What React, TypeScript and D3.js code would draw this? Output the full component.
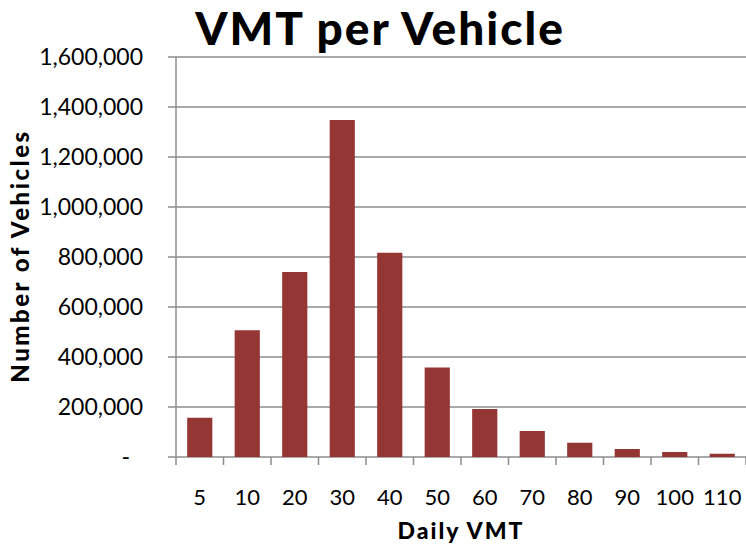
import React from "react";
import * as d3 from "d3";

const categories = ["5", "10", "20", "30", "40", "50", "60", "70", "80", "90", "100", "110"];
const vehicles = [157000, 507000, 740000, 1348000, 817000, 358000, 192000, 104000, 57000, 32000, 20000, 13000];
const yTicks = [0, 200000, 400000, 600000, 800000, 1000000, 1200000, 1400000, 1600000];

const W = 746, H = 548;
const left = 176, right = 746, top = 57, bottom = 457;
const font = "Lato, 'Open Sans', sans-serif";
const barColor = "#943634";

export default function App() {
  const x = d3.scaleBand().domain(categories).range([left, right]).paddingInner(0.47).paddingOuter(0.235);
  const xb = d3.scaleBand().domain(categories).range([left, right]);
  const y = d3.scaleLinear().domain([0, 1600000]).range([bottom, top]);
  const fmt = (v: number) => (v === 0 ? "-" : d3.format(",")(v));
  return (
    <svg width={W} height={H} style={{ position: "absolute", left: 0, top: 0 }}>
      <rect width={W} height={H} fill="#fff" />
      {yTicks.map((t) => (
        <g key={t}>
          <line x1={left - 8} x2={right} y1={y(t)} y2={y(t)} stroke="#8c8c8c" strokeWidth={1.5} />
          <text x={t === 0 ? 130 : 143} y={y(t)} dy="0.36em" textAnchor="end" fontFamily={font} fontSize={23} fill="#000">
            {fmt(t)}
          </text>
        </g>
      ))}
      <line x1={left} x2={left} y1={top} y2={bottom + 8} stroke="#8c8c8c" strokeWidth={1.5} />
      {categories.map((c) => (
        <line key={"t" + c} x1={(xb(c) as number) + xb.bandwidth()} x2={(xb(c) as number) + xb.bandwidth()} y1={bottom} y2={bottom + 8} stroke="#8c8c8c" strokeWidth={1.5} />
      ))}
      {categories.map((c, i) => (
        <rect key={c} x={x(c)} y={y(vehicles[i])} width={x.bandwidth()} height={bottom - y(vehicles[i])} fill={barColor} />
      ))}
      {categories.map((c) => (
        <text key={"l" + c} x={(xb(c) as number) + xb.bandwidth() / 2} y={505} textAnchor="middle" fontFamily={font} fontSize={22} fill="#000">
          {c}
        </text>
      ))}
      <text x={380} y={45} textAnchor="middle" fontFamily={font} fontWeight={900} fontSize={46} letterSpacing={2} fill="#000">
        VMT per Vehicle
      </text>
      <text x={461} y={539} textAnchor="middle" fontFamily={font} fontWeight={900} fontSize={23} letterSpacing={2} fill="#000">
        Daily VMT
      </text>
      <text transform="translate(29,256) rotate(-90)" textAnchor="middle" fontFamily={font} fontWeight={900} fontSize={24} letterSpacing={2.5} fill="#000">
        Number of Vehicles
      </text>
    </svg>
  );
}
